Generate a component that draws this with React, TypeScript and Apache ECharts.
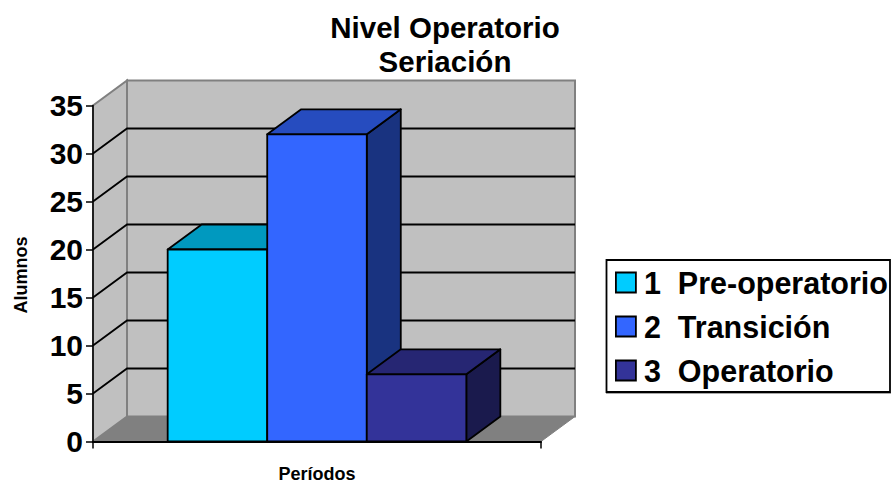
import React, { useEffect, useRef } from "react";
import * as echarts from "echarts";

const titleText = "Nivel Operatorio\nSeriación";
const xAxisName = "Períodos";
const yAxisName = "Alumnos";
const categories = ["Períodos"];
const seriesNames = ["1  Pre-operatorio", "2  Transición", "3  Operatorio"];
const seriesValues = [20, 32, 7];
const yTicks = [0, 5, 10, 15, 20, 25, 30, 35];
const faceColors = ["#00ccff", "#3366ff", "#333399"];
const topColors = ["#0099bf", "#264cbf", "#262673"];
const sideColors = ["#00668a", "#193380", "#1a1a4d"];

const FONT = "'Liberation Sans', Arial, sans-serif";
const DEPTH_X = 34;
const DEPTH_Y = -25;
const GAP_WIDTH = 1.5;

// Back wall, side wall, floor and the gridlines that wrap around both walls.
function renderWalls(_params: any, api: any) {
  const base = api.coord([0, 0]);
  const band = api.size([1, 0])[0];
  const left = base[0] - band / 2;
  const right = left + band;
  const bottom = base[1];
  const top = api.coord([0, yTicks[yTicks.length - 1]])[1];
  const wallEdge = { stroke: "#808080", lineWidth: 2 };
  const children: any[] = [
    {
      type: "polygon",
      shape: { points: [[left, bottom], [left + DEPTH_X, bottom + DEPTH_Y], [right + DEPTH_X, bottom + DEPTH_Y], [right, bottom]] },
      style: { fill: "#808080", stroke: "#808080", lineWidth: 1 },
    },
    {
      type: "polygon",
      shape: { points: [[left, bottom], [left, top], [left + DEPTH_X, top + DEPTH_Y], [left + DEPTH_X, bottom + DEPTH_Y]] },
      style: { fill: "#c0c0c0", ...wallEdge },
    },
    {
      type: "rect",
      shape: { x: left + DEPTH_X, y: top + DEPTH_Y, width: band, height: bottom - top },
      style: { fill: "#c0c0c0", ...wallEdge },
    },
  ];
  yTicks.slice(1, -1).forEach((tick) => {
    const y = api.coord([0, tick])[1];
    children.push({
      type: "polyline",
      shape: { points: [[left, y], [left + DEPTH_X, y + DEPTH_Y], [right + DEPTH_X, y + DEPTH_Y]] },
      style: { fill: null, stroke: "#000000", lineWidth: 1.8 },
    });
  });
  return { type: "group", children };
}

// One extruded column: side and top faces first, front face over them.
function renderColumn(index: number) {
  return (_params: any, api: any) => {
    const base = api.coord([0, 0]);
    const head = api.coord([api.value(0), api.value(1)]);
    const band = api.size([1, 0])[0];
    const width = band / (seriesNames.length + GAP_WIDTH);
    const x0 = base[0] - band / 2 + (band - width * seriesNames.length) / 2 + width * index;
    const x1 = x0 + width;
    const line = { stroke: "#000000", lineWidth: 1.8, lineJoin: "round" };
    return {
      type: "group",
      children: [
        {
          type: "polygon",
          shape: { points: [[x1, head[1]], [x1 + DEPTH_X, head[1] + DEPTH_Y], [x1 + DEPTH_X, base[1] + DEPTH_Y], [x1, base[1]]] },
          style: { fill: sideColors[index], ...line },
        },
        {
          type: "polygon",
          shape: { points: [[x0, head[1]], [x0 + DEPTH_X, head[1] + DEPTH_Y], [x1 + DEPTH_X, head[1] + DEPTH_Y], [x1, head[1]]] },
          style: { fill: topColors[index], ...line },
        },
        {
          type: "rect",
          shape: { x: x0, y: head[1], width, height: base[1] - head[1] },
          style: { fill: faceColors[index], ...line },
        },
      ],
    };
  };
}

export default function App() {
  const ref = useRef<HTMLDivElement>(null);

  useEffect(() => {
    const chart = echarts.init(ref.current!, null, { renderer: "svg" });
    chart.setOption({
      animation: false,
      backgroundColor: "#ffffff",
      title: {
        text: titleText,
        left: 440,
        top: 5,
        textAlign: "center",
        textStyle: { fontFamily: FONT, fontWeight: "bold", fontSize: 29.5, lineHeight: 34, color: "#000000" },
      },
      grid: { left: 93, right: 350, top: 105.5, bottom: 42.5, outerBoundsMode: "none" },
      xAxis: {
        type: "category",
        data: categories,
        z: 6,
        name: xAxisName,
        nameLocation: "middle",
        nameGap: 25,
        nameTextStyle: { fontFamily: FONT, fontWeight: "bold", fontSize: 18, lineHeight: 14, color: "#000000" },
        axisLine: { lineStyle: { color: "#000000", width: 2 } },
        axisTick: { show: true, length: 7, lineStyle: { color: "#000000", width: 1.5 } },
        axisLabel: { show: false },
        splitLine: { show: false },
      },
      yAxis: {
        type: "value",
        min: 0,
        max: 35,
        interval: 5,
        z: 6,
        name: yAxisName,
        nameLocation: "middle",
        nameRotate: 90,
        nameGap: 63,
        nameTextStyle: { fontFamily: FONT, fontWeight: "bold", fontSize: 18, color: "#000000", padding: [0, 3, 0, 0] },
        axisLine: { show: true, lineStyle: { color: "#000000", width: 1.5 } },
        axisTick: { show: true, length: 7, lineStyle: { color: "#000000", width: 1.5 } },
        axisLabel: { margin: 10, fontFamily: FONT, fontWeight: "bold", fontSize: 30, color: "#000000" },
        splitLine: { show: false },
      },
      legend: {
        orient: "vertical",
        left: 615,
        top: 267,
        padding: 0,
        itemWidth: 20,
        itemHeight: 20,
        itemGap: 13,
        selectedMode: false,
        textStyle: { fontFamily: FONT, fontWeight: "bold", fontSize: 30.5, color: "#000000", padding: [0, 0, 0, 3] },
        data: seriesNames.map((name, i) => ({
          name,
          icon: "rect",
          itemStyle: { color: faceColors[i], borderColor: "#000000", borderWidth: 1.8 },
        })),
      },
      graphic: [
        {
          type: "line",
          z: -2,
          silent: true,
          shape: { x1: 606, y1: 393.2, x2: 891, y2: 393.2 },
          style: { stroke: "#808080", lineWidth: 1 },
        },
        {
          type: "rect",
          z: -1,
          silent: true,
          shape: { x: 606.5, y: 260, width: 283.5, height: 132 },
          style: { fill: "#ffffff", stroke: "#000000", lineWidth: 1.8 },
        },
      ],
      series: [
        {
          type: "custom",
          name: "walls",
          z: 1,
          silent: true,
          clip: false,
          data: [[0, 0]],
          encode: { x: 0, y: 1 },
          renderItem: renderWalls,
        },
        ...seriesNames.map((name, i) => ({
          type: "custom",
          name,
          z: 2 + i,
          clip: false,
          data: [[0, seriesValues[i]]],
          encode: { x: 0, y: 1 },
          itemStyle: { color: faceColors[i] },
          renderItem: renderColumn(i),
        })),
      ],
    });
    return () => chart.dispose();
  }, []);

  return <div ref={ref} style={{ position: "absolute", left: 0, top: 0, width: 891, height: 484 }} />;
}
